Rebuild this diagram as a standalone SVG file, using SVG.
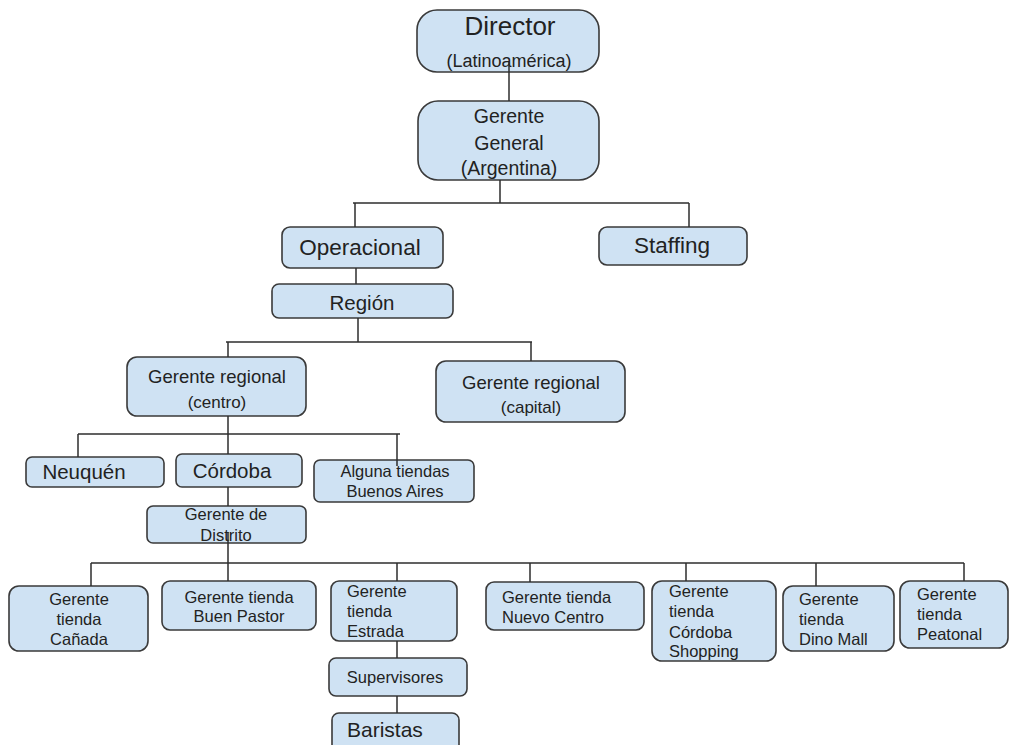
<svg xmlns="http://www.w3.org/2000/svg" width="1010" height="745" viewBox="0 0 1010 745">
<style>
.b{fill:#cfe2f3;stroke:#3a3a3a;stroke-width:1.6}
.t{font-family:"Liberation Sans",Arial,sans-serif;fill:#222222}
.c{text-anchor:middle}
.l{stroke:#2e2e2e;stroke-width:1.5;fill:none}
</style>
<rect width="1010" height="745" fill="#ffffff"/>
<g id="director"><rect class="b" x="417" y="10" width="182" height="62" rx="20"/>
<text class="t c" x="510" y="35" font-size="26">Director</text>
<text class="t c" x="509" y="67" font-size="18">(Latinoamérica)</text></g>
<g id="gerente-general"><rect class="b" x="418" y="101" width="181" height="79" rx="20"/>
<text class="t c" font-size="19.5"><tspan x="509" y="123">Gerente</tspan><tspan x="509" y="150">General</tspan><tspan x="509" y="175">(Argentina)</tspan></text></g>
<g id="operacional"><rect class="b" x="282" y="227" width="161" height="41" rx="8"/>
<text class="t c" x="360" y="255" font-size="22.5">Operacional</text></g>
<g id="staffing"><rect class="b" x="599" y="227" width="148" height="38" rx="8"/>
<text class="t c" x="672" y="253" font-size="22.5">Staffing</text></g>
<g id="region"><rect class="b" x="272" y="284" width="181" height="34" rx="7"/>
<text class="t c" x="362" y="310" font-size="20.5">Región</text></g>
<g id="gr-centro"><rect class="b" x="127" y="357" width="179" height="59" rx="10"/>
<text class="t c" font-size="18.5"><tspan x="217" y="383">Gerente regional</tspan><tspan x="217" y="408" font-size="17">(centro)</tspan></text></g>
<g id="gr-capital"><rect class="b" x="436" y="361" width="189" height="61" rx="10"/>
<text class="t c" font-size="18.5"><tspan x="531" y="389">Gerente regional</tspan><tspan x="531" y="413" font-size="17">(capital)</tspan></text></g>
<g id="neuquen"><rect class="b" x="26" y="457" width="138" height="30" rx="6"/>
<text class="t c" x="84" y="479" font-size="20.5">Neuquén</text></g>
<g id="cordoba"><rect class="b" x="176" y="454" width="126" height="33" rx="6"/>
<text class="t c" x="232" y="478" font-size="20.5">Córdoba</text></g>
<g id="buenos-aires"><rect class="b" x="314" y="460" width="160" height="42" rx="6"/>
<text class="t c" font-size="16.5"><tspan x="395" y="477">Alguna tiendas</tspan><tspan x="395" y="497">Buenos Aires</tspan></text></g>
<g id="distrito"><rect class="b" x="147" y="506" width="159" height="37" rx="6"/>
<text class="t c" font-size="16.5"><tspan x="226" y="520">Gerente de</tspan><tspan x="226" y="541">Distrito</tspan></text></g>
<g id="canada"><rect class="b" x="9" y="586" width="139" height="65" rx="10"/>
<text class="t c" font-size="16.5"><tspan x="79" y="605">Gerente</tspan><tspan x="79" y="625">tienda</tspan><tspan x="79" y="645">Cañada</tspan></text></g>
<g id="buen-pastor"><rect class="b" x="162" y="581" width="154" height="49" rx="8"/>
<text class="t c" font-size="16.5"><tspan x="239" y="603">Gerente tienda</tspan><tspan x="239" y="622">Buen Pastor</tspan></text></g>
<g id="estrada"><rect class="b" x="331" y="581" width="126" height="60" rx="8"/>
<text class="t" font-size="16.5"><tspan x="347" y="597">Gerente</tspan><tspan x="347" y="617">tienda</tspan><tspan x="347" y="637">Estrada</tspan></text></g>
<g id="supervisores"><rect class="b" x="329" y="658" width="138" height="38" rx="7"/>
<text class="t c" x="395" y="683" font-size="16.5">Supervisores</text></g>
<g id="baristas"><rect class="b" x="332" y="713" width="127" height="40" rx="7"/>
<text class="t" x="347" y="737" font-size="21">Baristas</text></g>
<g id="nuevo-centro"><rect class="b" x="486" y="582" width="158" height="48" rx="8"/>
<text class="t" font-size="16.5"><tspan x="502" y="603">Gerente tienda</tspan><tspan x="502" y="623">Nuevo Centro</tspan></text></g>
<g id="cordoba-shopping"><rect class="b" x="652" y="581" width="124" height="80" rx="10"/>
<text class="t" font-size="16.5"><tspan x="669" y="597">Gerente</tspan><tspan x="669" y="617">tienda</tspan><tspan x="669" y="638">Córdoba</tspan><tspan x="669" y="657">Shopping</tspan></text></g>
<g id="dino-mall"><rect class="b" x="783" y="586" width="111" height="65" rx="10"/>
<text class="t" font-size="16.5"><tspan x="799" y="605">Gerente</tspan><tspan x="799" y="625">tienda</tspan><tspan x="799" y="645">Dino Mall</tspan></text></g>
<g id="peatonal"><rect class="b" x="900" y="581" width="108" height="67" rx="10"/>
<text class="t" font-size="16.5"><tspan x="917" y="600">Gerente</tspan><tspan x="917" y="620">tienda</tspan><tspan x="917" y="640">Peatonal</tspan></text></g>
<g id="connectors">
<path class="l" d="M509 62V101"/>
<path class="l" d="M500 180V203M353 203H689M355 203V227M689 203V227"/>
<path class="l" d="M356 268V284"/>
<path class="l" d="M358 318V342M226 342H532M228 342V357M531 342V361"/>
<path class="l" d="M228 416V434M78 434H400M78 434V457M228 434V454M397 434V466"/>
<path class="l" d="M228 487V506M228 532V543"/>
<path class="l" d="M228 543V563M91 563H964M91 563V586M228 563V581M397 563V581M530 563V582M686 563V581M816 563V586M964 563V581"/>
<path class="l" d="M397 641V658M397 696V713"/>
</g>
</svg>
